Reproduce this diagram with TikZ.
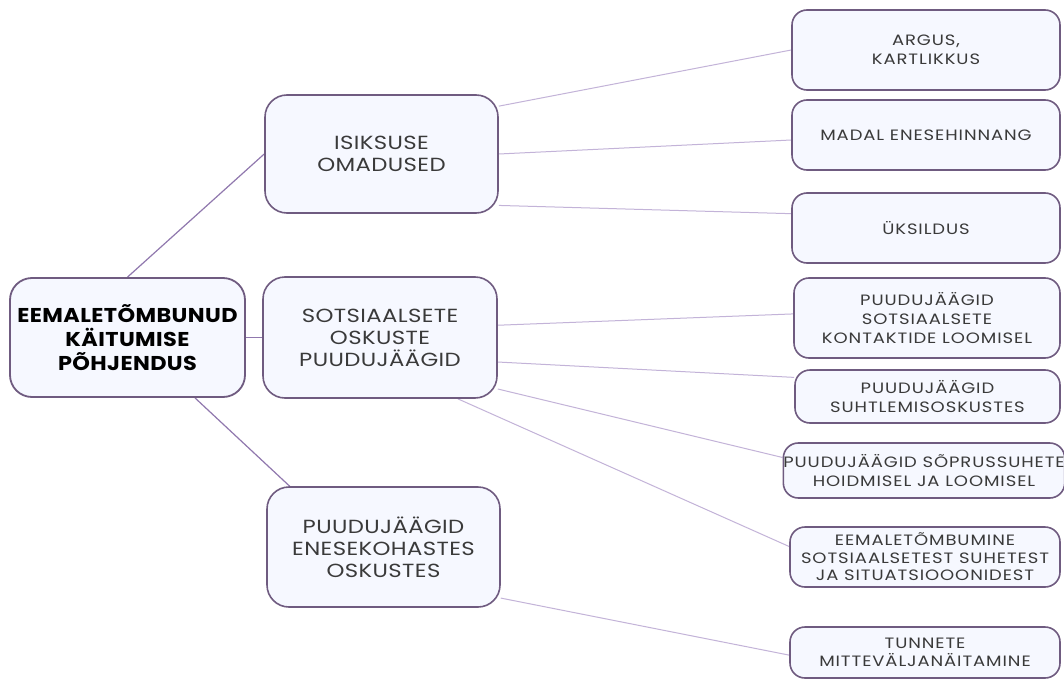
\documentclass[tikz,border=0pt]{standalone}
\usepackage{fontspec}
\setmainfont{Poppins}
\newfontfamily\leaffont[FakeStretch=1.2,LetterSpace=6]{Poppins}
\newfontfamily\midfont[FakeStretch=1.2,LetterSpace=2]{Poppins}
\newfontfamily\rootfont[FakeStretch=1.12,LetterSpace=2]{Poppins}
\usetikzlibrary{calc,backgrounds}
\definecolor{boxline}{HTML}{6F5B80}
\definecolor{boxfill}{HTML}{F6F8FF}
\definecolor{linkdark}{HTML}{9078AE}
\definecolor{linklight}{HTML}{C3B3D8}
\definecolor{txt}{HTML}{3A3A3A}
\begin{document}
\begin{tikzpicture}[x=1pt,y=-1pt,
  box/.style={draw=boxline, line width=1.6pt, fill=boxfill, inner sep=0pt, align=center, text=txt},
  rootbox/.style={box, rounded corners=22pt, font=\rootfont\fontsize{20}{24}\selectfont\bfseries, text=black, line width=1.8pt},
  midbox/.style={box, rounded corners=22pt, font=\midfont\fontsize{19}{22}\selectfont},
  leafbox/.style={box, rounded corners=15pt, font=\leaffont\fontsize{15}{19}\selectfont},
  darklink/.style={draw=linkdark, line width=1.2pt},
  lightlink/.style={draw=linklight, line width=1pt}]
\useasboundingbox (0,0) rectangle (1064,687);

\node[rootbox, minimum width=235pt, minimum height=119pt] (root) at (127.5,337.5) {EEMALETÕMBUNUD\\KÄITUMISE\\PÕHJENDUS};
\node[midbox, minimum width=233pt, minimum height=118pt] (isik) at (381.5,154) {ISIKSUSE\\OMADUSED};
\node[midbox, minimum width=234pt, minimum height=121pt] (sots) at (380,337.5) {SOTSIAALSETE\\OSKUSTE\\PUUDUJÄÄGID};
\node[midbox, minimum width=233pt, minimum height=120pt] (enes) at (383.5,547) {PUUDUJÄÄGID\\ENESEKOHASTES\\OSKUSTES};

\node[leafbox, minimum width=268pt, minimum height=80pt] (argus) at (926,50) {ARGUS,\\KARTLIKKUS};
\node[leafbox, minimum width=268pt, minimum height=70pt] (madal) at (926,135) {MADAL ENESEHINNANG};
\node[leafbox, minimum width=268pt, minimum height=70pt] (uks) at (926,228) {ÜKSILDUS};
\node[leafbox, minimum width=266pt, minimum height=80pt] (kont) at (927,318) {PUUDUJÄÄGID\\SOTSIAALSETE\\KONTAKTIDE LOOMISEL};
\node[leafbox, minimum width=265pt, minimum height=53pt] (suht) at (927.5,396.5) {PUUDUJÄÄGID\\SUHTLEMISOSKUSTES};
\node[leafbox, minimum width=272pt, minimum height=55pt] (sopr) at (924,470.5) {PUUDUJÄÄGID SÕPRUSSUHETE\\HOIDMISEL JA LOOMISEL};
\node[leafbox, minimum width=270pt, minimum height=60pt, font=\leaffont\fontsize{15}{17.5}\selectfont] (eemal) at (925,557) {EEMALETÕMBUMINE\\SOTSIAALSETEST SUHETEST\\JA SITUATSIOOONIDEST};
\node[leafbox, minimum width=270pt, minimum height=51pt, font=\leaffont\fontsize{15}{17.5}\selectfont] (tunn) at (925,652.5) {TUNNETE\\MITTEVÄLJANÄITAMINE};

\begin{scope}[on background layer]
\fill[white] (0,0) rectangle (1064,687);
\draw[darklink] (root.north) -- (isik.west);
\draw[darklink] (root.east) -- (sots.west);
\draw[darklink] ($(root.south)!0.57!(root.south east)$) -- ($(enes.north west)!0.1!(enes.north east)$);

\draw[lightlink] ($(isik.north east)!0.1!(isik.south east)$) -- (argus.west);
\draw[lightlink] (isik.east) -- ($(madal.north west)!0.57!(madal.south west)$);
\draw[lightlink] ($(isik.north east)!0.93!(isik.south east)$) -- ($(uks.north west)!0.3!(uks.south west)$);

\draw[lightlink] ($(sots.north east)!0.4!(sots.south east)$) -- ($(kont.north west)!0.45!(kont.south west)$);
\draw[lightlink] ($(sots.north east)!0.7!(sots.south east)$) -- ($(suht.north west)!0.15!(suht.south west)$);
\draw[lightlink] ($(sots.north east)!0.92!(sots.south east)$) -- ($(sopr.north west)!0.27!(sopr.south west)$);
\draw[lightlink] ($(sots.south west)!0.83!(sots.south east)$) -- ($(eemal.north west)!0.33!(eemal.south west)$);

\draw[lightlink] ($(enes.north east)!0.92!(enes.south east)$) -- ($(tunn.north west)!0.55!(tunn.south west)$);
\end{scope}
\end{tikzpicture}
\end{document}
